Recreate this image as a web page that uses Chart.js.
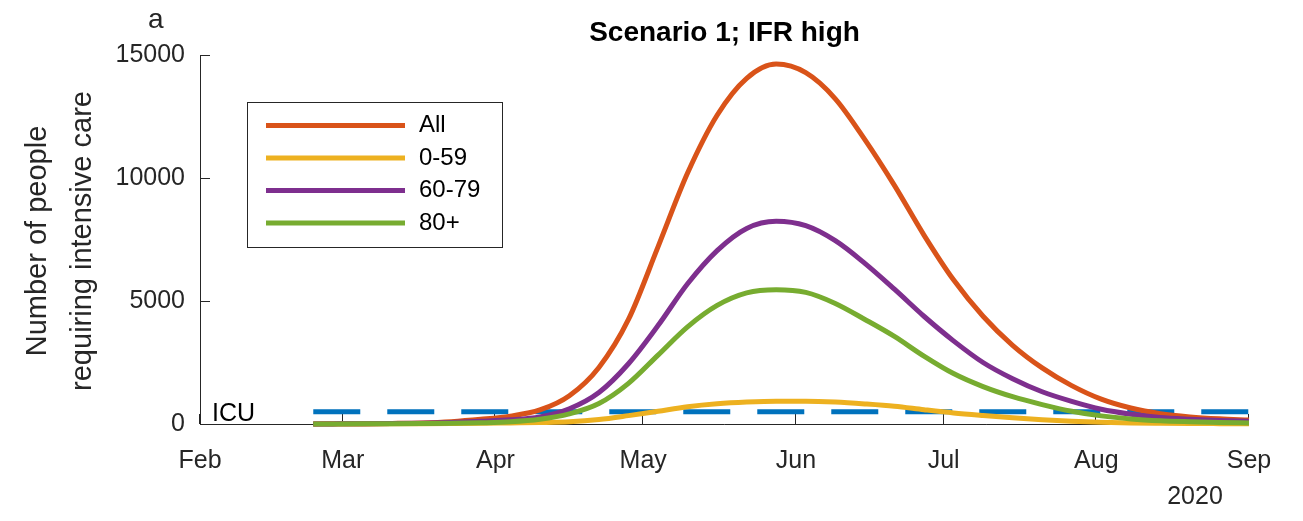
<!DOCTYPE html>
<html>
<head>
<meta charset="utf-8">
<script src="https://cdn.jsdelivr.net/npm/chart.js@4.4.0/dist/chart.umd.min.js"></script>
<style>
  html, body { margin: 0; padding: 0; background: #fff; }
  #wrap { width: 1303px; height: 521px; }
</style>
</head>
<body>
<div id="wrap"><canvas id="icu-chart" width="1303" height="521"></canvas></div>
<script>
// days counted from 1 Feb 2020
const monthDays = [0, 29, 60, 90, 121, 151, 182, 213];
const monthLabels = ["Feb", "Mar", "Apr", "May", "Jun", "Jul", "Aug", "Sep"];
const yTicks = [0, 5000, 10000, 15000];

const days = [23, 27, 33, 39, 45, 51, 57, 63, 69, 75, 81, 87, 93, 99, 105, 111, 117,
              123, 129, 135, 141, 147, 153, 159, 165, 171, 177, 183, 189, 195, 201, 207, 213];

const allAges = [5, 8, 14, 25, 45, 95, 190, 320, 570, 1150, 2300, 4250, 7200, 10200, 12550, 14050, 14630,
                 14280, 13220, 11560, 9700, 7680, 5860, 4380, 3200, 2280, 1560, 1010, 650, 420, 290, 210, 160];
const age0to59 = [1, 2, 4, 7, 12, 20, 30, 45, 60, 90, 180, 340, 520, 700, 820, 890, 925,
                  925, 890, 815, 720, 580, 450, 345, 250, 170, 110, 70, 45, 30, 20, 15, 10];
const age60to79 = [3, 5, 9, 16, 30, 60, 110, 170, 290, 620, 1280, 2450, 4000, 5700, 7050, 7950, 8240,
                   8060, 7450, 6530, 5480, 4380, 3380, 2500, 1840, 1310, 920, 600, 400, 265, 195, 145, 110];
const age80plus = [2, 3, 6, 10, 17, 28, 50, 90, 190, 410, 830, 1650, 2800, 3950, 4820, 5330, 5460,
                   5350, 4900, 4250, 3560, 2760, 2050, 1520, 1110, 790, 520, 330, 205, 130, 90, 60, 40];

const icuLevel = 500;
const icuDays = [23, 213];

const FONT = "'Liberation Sans', Arial, Helvetica, sans-serif";
const INK = '#262626';

const toPoints = vals => days.map((d, i) => ({ x: d, y: vals[i] }));

const curve = (label, vals, color, order) => ({
    label: label,
    data: toPoints(vals),
    borderColor: color,
    borderWidth: 5,
    pointRadius: 0,
    cubicInterpolationMode: 'monotone',
    fill: false,
    clip: false,
    order: order
});

const datasets = [
    curve('All', allAges, '#D95319', 4),
    curve('0-59', age0to59, '#EDB120', 3),
    curve('60-79', age60to79, '#7E2F8E', 2),
    curve('80+', age80plus, '#77AC30', 1),
    {
        label: 'ICU',
        data: icuDays.map(d => ({ x: d, y: icuLevel })),
        borderColor: '#0072BD',
        borderWidth: 5,
        borderDash: [47, 27],
        pointRadius: 0,
        fill: false,
        clip: false,
        order: 5
    }
];

// axes with inward ticks, like the original figure
const axesPlugin = {
    id: 'axesPlugin',
    beforeDatasetsDraw(chart) {
        const ctx = chart.ctx;
        const a = chart.chartArea;
        const xs = chart.scales.x, ys = chart.scales.y;
        ctx.save();
        ctx.strokeStyle = INK;
        ctx.lineWidth = 1;
        ctx.beginPath();
        ctx.moveTo(a.left + 0.5, a.top);
        ctx.lineTo(a.left + 0.5, a.bottom + 0.5);
        ctx.lineTo(a.right, a.bottom + 0.5);
        yTicks.forEach(v => {
            const y = Math.round(ys.getPixelForValue(v)) + 0.5;
            ctx.moveTo(a.left, y);
            ctx.lineTo(a.left + 10, y);
        });
        monthDays.forEach(v => {
            const x = Math.round(xs.getPixelForValue(v)) - 0.5;
            ctx.moveTo(x, a.bottom);
            ctx.lineTo(x, a.bottom - 10);
        });
        ctx.stroke();
        ctx.restore();
    },
    afterDraw(chart) {
        const ctx = chart.ctx;
        const a = chart.chartArea;
        ctx.save();
        ctx.fillStyle = '#000';
        ctx.textAlign = 'center';
        ctx.textBaseline = 'alphabetic';
        ctx.font = 'bold 28px ' + FONT;
        ctx.fillText('Scenario 1; IFR high', (a.left + a.right) / 2, 41);

        ctx.fillStyle = INK;
        ctx.font = '28px ' + FONT;
        ctx.textAlign = 'left';
        ctx.fillText('a', 148, 28);

        ctx.font = '25px ' + FONT;
        ctx.textAlign = 'center';
        ctx.fillText('2020', 1195, 504);

        ctx.fillStyle = '#000';
        ctx.textAlign = 'left';
        ctx.fillText('ICU', 212, 421);

        // y axis title
        ctx.fillStyle = INK;
        ctx.font = '29px ' + FONT;
        ctx.translate(0, 241);
        ctx.rotate(-Math.PI / 2);
        ctx.textAlign = 'center';
        ctx.textBaseline = 'middle';
        ctx.fillText('Number of people', 0, 38);
        ctx.fillText('requiring intensive care', 0, 83);
        ctx.setTransform(1, 0, 0, 1, 0, 0);

        // legend box
        ctx.fillStyle = '#fff';
        ctx.fillRect(247, 102, 255, 145);
        ctx.strokeStyle = INK;
        ctx.lineWidth = 1;
        ctx.strokeRect(247.5, 102.5, 255, 145);
        const rows = [125.5, 158, 190.5, 223];
        chart.data.datasets.slice(0, 4).forEach((ds, i) => {
            ctx.strokeStyle = ds.borderColor;
            ctx.lineWidth = 5;
            ctx.beginPath();
            ctx.moveTo(266, rows[i]);
            ctx.lineTo(405, rows[i]);
            ctx.stroke();
            ctx.fillStyle = '#000';
            ctx.font = '24px ' + FONT;
            ctx.textAlign = 'left';
            ctx.textBaseline = 'middle';
            ctx.fillText(ds.label, 419, rows[i]);
        });
        ctx.restore();
    }
};

const icuChart = new Chart(document.getElementById('icu-chart'), {
    type: 'line',
    data: { datasets: datasets },
    options: {
        responsive: false,
        devicePixelRatio: 1,
        animation: false,
        layout: { padding: { top: 55, right: 54, left: 0, bottom: 0 } },
        plugins: {
            legend: { display: false },
            title: { display: false },
            tooltip: { enabled: false }
        },
        scales: {
            x: {
                type: 'linear',
                min: 0,
                max: 213,
                afterBuildTicks: s => { s.ticks = monthDays.map(v => ({ value: v })); },
                afterFit: s => { s.height = 97; },
                grid: { display: false, drawTicks: false },
                border: { display: false },
                ticks: {
                    autoSkip: false,
                    maxRotation: 0,
                    padding: 22,
                    color: INK,
                    font: { family: FONT, size: 25 },
                    callback: (v, i) => monthLabels[i]
                }
            },
            y: {
                min: 0,
                max: 15000,
                afterBuildTicks: s => { s.ticks = yTicks.map(v => ({ value: v })); },
                afterFit: s => { s.width = 200; },
                grid: { display: false, drawTicks: false },
                border: { display: false },
                ticks: {
                    padding: 15,
                    color: INK,
                    font: { family: FONT, size: 25 },
                    callback: v => String(v)
                }
            }
        }
    },
    plugins: [axesPlugin]
});
</script>
</body>
</html>
